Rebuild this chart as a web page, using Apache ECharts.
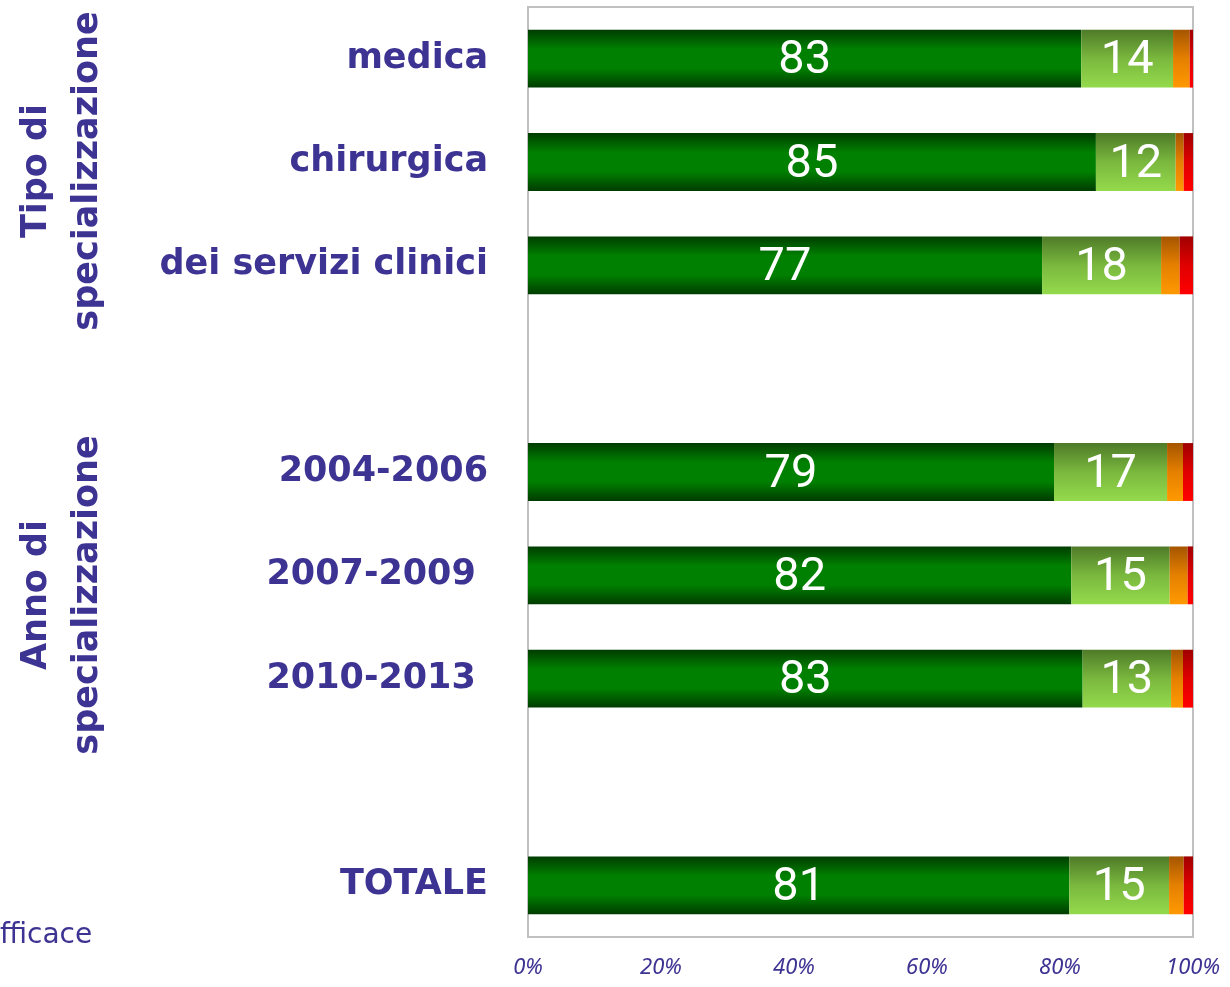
<!DOCTYPE html>
<html>
<head>
<meta charset="utf-8">
<script src="https://cdn.jsdelivr.net/npm/echarts@6/dist/echarts.min.js"></script>
<style>
  html, body { margin: 0; padding: 0; background: #fff; }
  #chart { width: 1230px; height: 987px; }
</style>
</head>
<body>
<div id="chart"></div>
<script>
// categories (blank rows separate the groups)
const categories = ['medica', 'chirurgica', 'dei servizi clinici', '', '2004-2006', '2007-2009 ', '2010-2013 ', '', 'TOTALE'];
// shares in %
const verde = [83.2, 85.4, 77.3, null, 79.1, 81.7, 83.4, null, 81.4];
const verdeChiaro = [13.8, 12.0, 17.9, null, 17.0, 14.8, 13.3, null, 15.0];
const arancio = [2.5, 1.2, 2.8, null, 2.4, 2.7, 1.8, null, 2.2];
const rosso = [0.5, 1.4, 2.0, null, 1.5, 0.8, 1.5, null, 1.4];
const xTicks = [0, 20, 40, 60, 80, 100];

const textColor = '#3d3393';

// vertical gradient helper
const grad = (stops) => new echarts.graphic.LinearGradient(0, 0, 0, 1,
  stops.map((c, i) => ({ offset: i / (stops.length - 1), color: c })));

const barLabel = {
  show: true,
  position: 'inside',
  offset: [0, 3],
  color: '#fff',
  fontFamily: 'Roboto',
  fontSize: 47,
  formatter: (p) => Math.round(p.value),
};

const chart = echarts.init(document.getElementById('chart'));
chart.setOption({
  animation: false,
  grid: {
    left: 528, right: 37, top: 7, bottom: 50,
    show: true, borderColor: '#c0c0c0', borderWidth: 2,
  },
  xAxis: {
    type: 'value',
    min: xTicks[0],
    max: xTicks[xTicks.length - 1],
    interval: 20,
    axisLine: { show: false },
    axisTick: { show: false },
    splitLine: { show: false },
    axisLabel: {
      formatter: '{value}%',
      color: textColor,
      fontStyle: 'italic',
      fontFamily: 'Noto Sans',
      fontSize: 22,
      margin: 20,
    },
  },
  yAxis: {
    type: 'category',
    inverse: true,
    data: categories,
    axisLine: { show: false },
    axisTick: { show: false },
    axisLabel: {
      color: textColor,
      fontFamily: 'DejaVu Sans',
      fontWeight: 'bold',
      fontSize: 35,
      margin: 40,
      padding: [4, 0, 0, 0],
    },
  },
  series: [
    {
      name: 'verde', type: 'bar', stack: 'tot', data: verde, barWidth: '56%',
      itemStyle: { color: grad(['#003c00', '#008000', '#008000', '#003c00']) },
      label: barLabel,
    },
    {
      name: 'verde chiaro', type: 'bar', stack: 'tot', data: verdeChiaro,
      itemStyle: { color: grad(['#4e7a28', '#7ab83e', '#94da4c']) },
      label: barLabel,
    },
    {
      name: 'arancio', type: 'bar', stack: 'tot', data: arancio,
      itemStyle: { color: grad(['#a55500', '#e58000', '#ff9900']) },
    },
    {
      name: 'rosso', type: 'bar', stack: 'tot', data: rosso,
      itemStyle: { color: grad(['#a00000', '#e00000', '#ff0000']) },
    },
  ],
  graphic: [
    {
      type: 'text', left: 0, top: 922,
      style: { text: 'fficace', fill: textColor, font: '28px "DejaVu Sans"' },
    },
    {
      type: 'text', x: 62, y: 171, rotation: Math.PI / 2,
      style: {
        text: 'Tipo di\nspecializzazione', fill: textColor,
        font: 'bold 35px "DejaVu Sans"', lineHeight: 51,
        align: 'center', verticalAlign: 'middle',
      },
    },
    {
      type: 'text', x: 62, y: 595, rotation: Math.PI / 2,
      style: {
        text: 'Anno di\nspecializzazione', fill: textColor,
        font: 'bold 35px "DejaVu Sans"', lineHeight: 51,
        align: 'center', verticalAlign: 'middle',
      },
    },
  ],
});
</script>
</body>
</html>
